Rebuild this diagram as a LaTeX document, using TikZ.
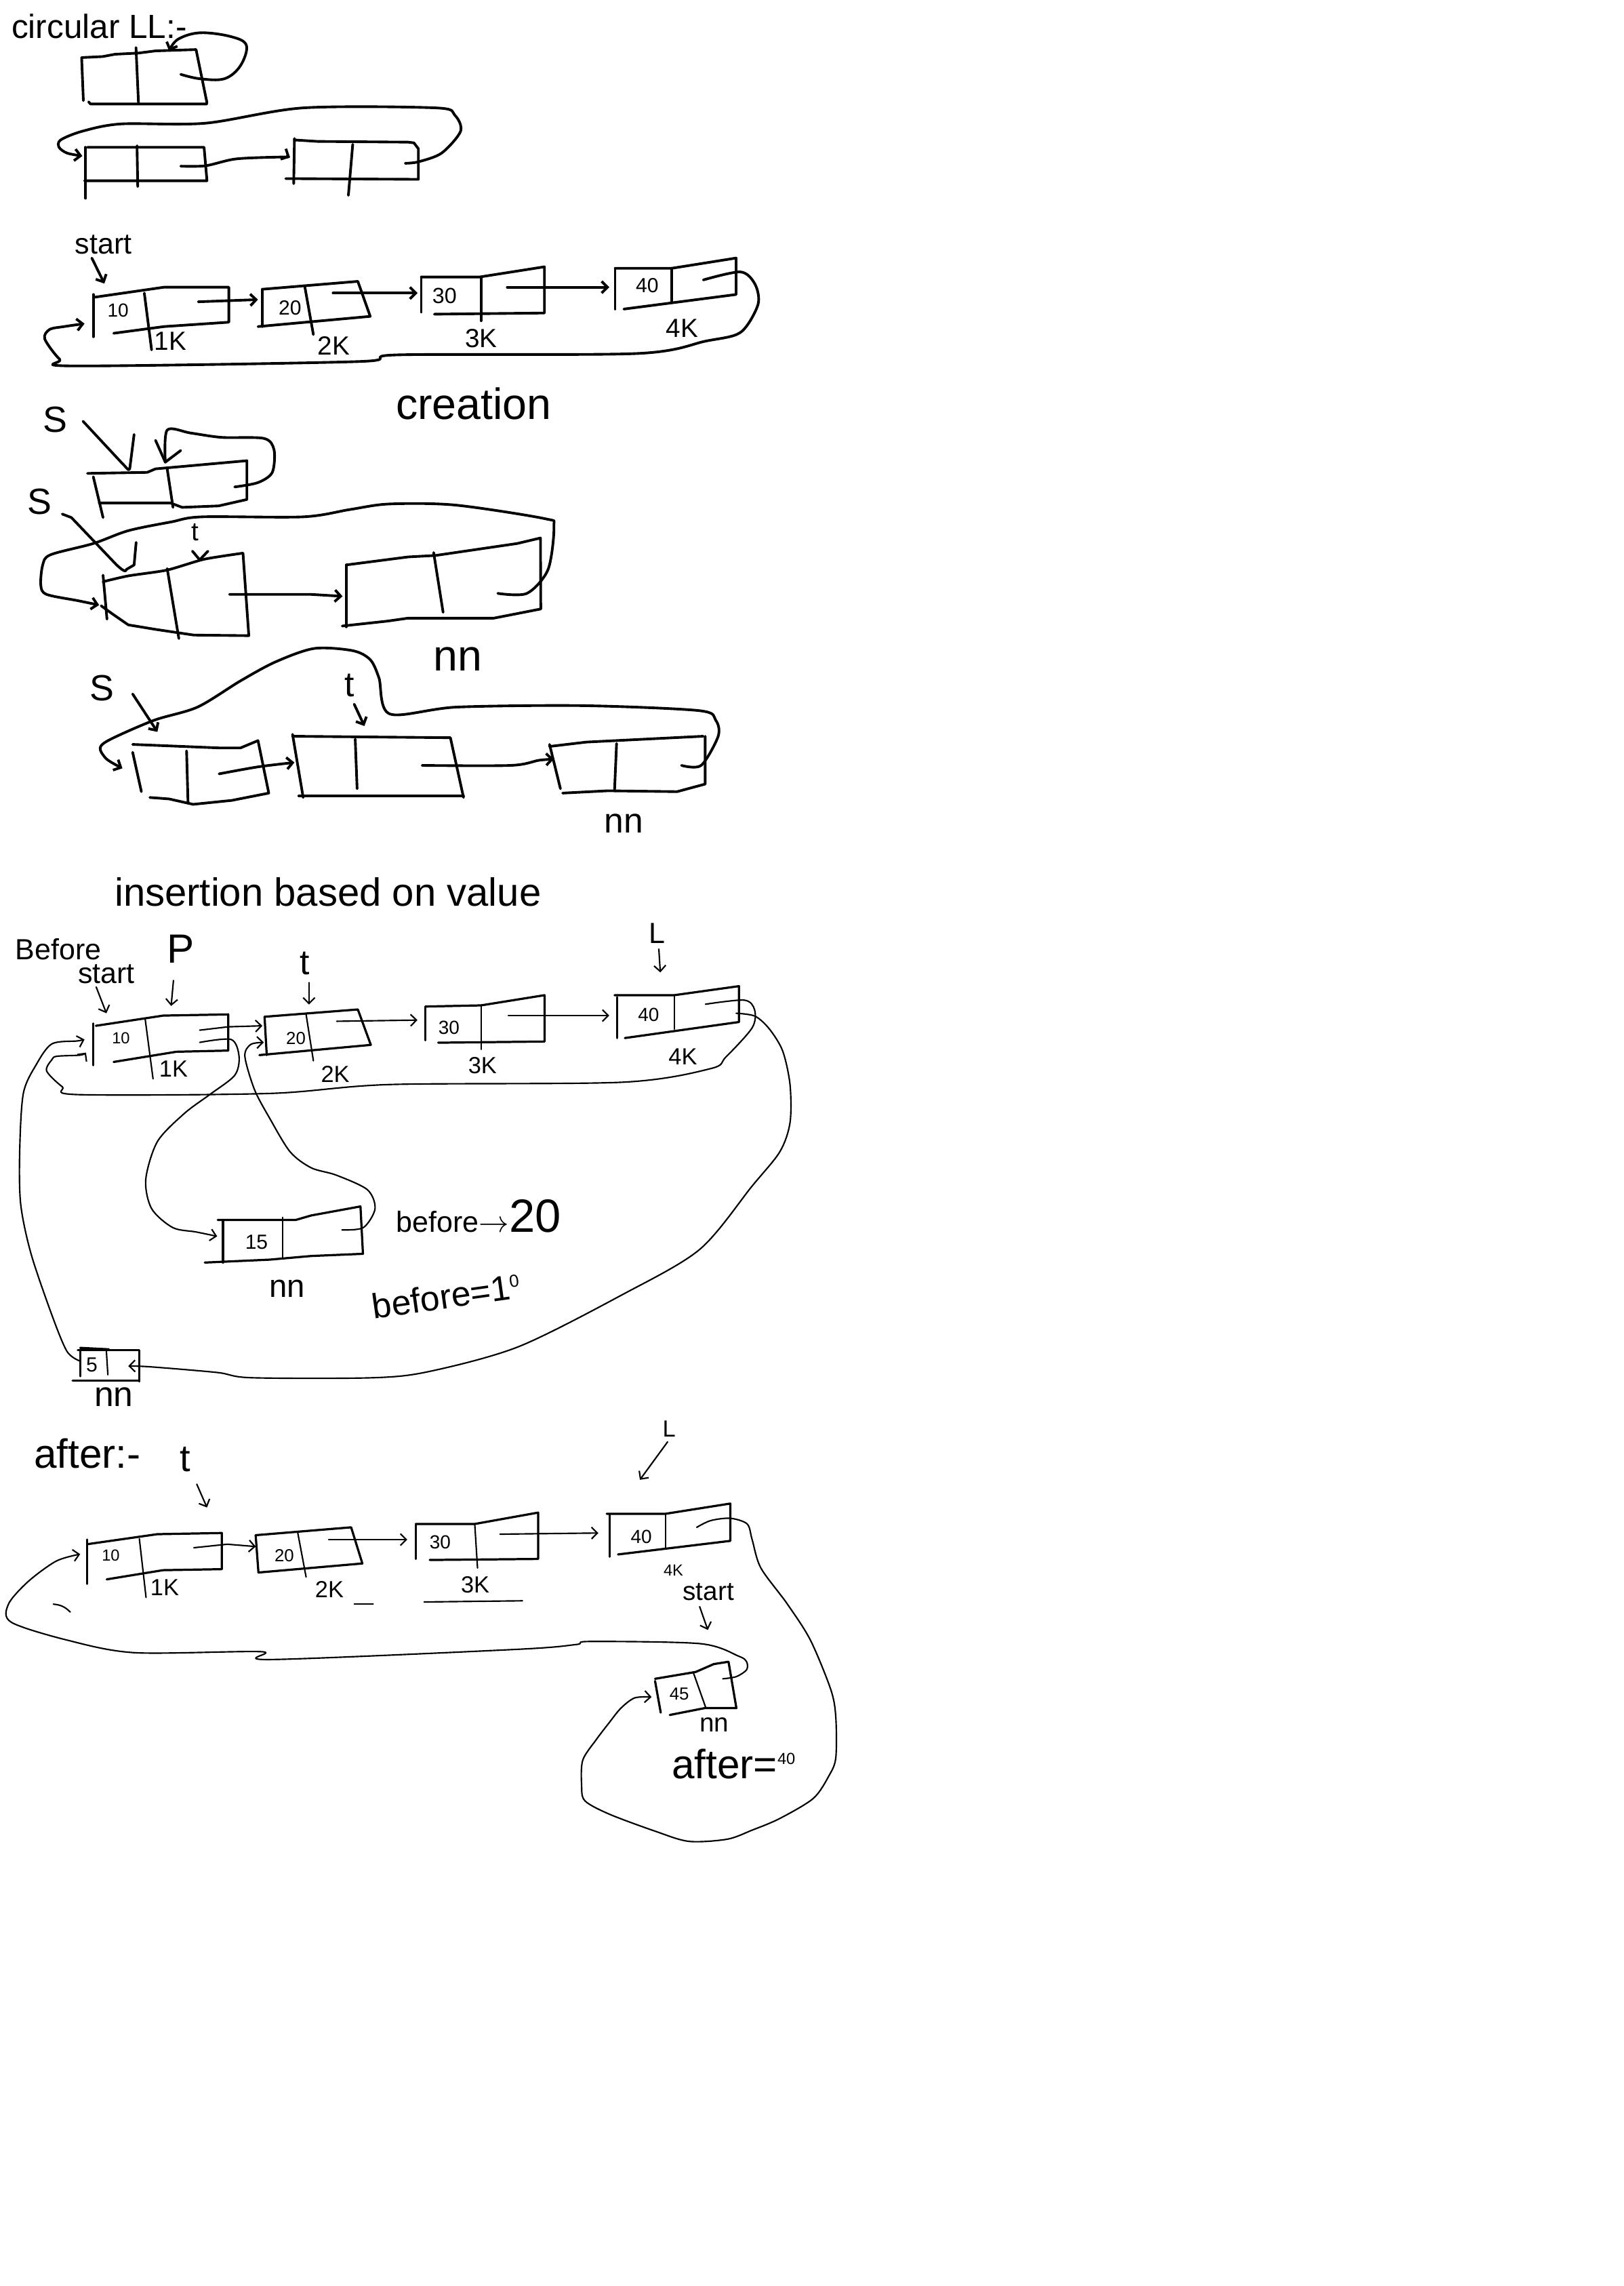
\documentclass[tikz,border=0pt]{standalone}
\usepackage{fontspec}
\setmainfont{Liberation Sans}
\usetikzlibrary{arrows.meta}
\newcommand{\hwfs}[1]{\fontsize{#1}{#1}\selectfont}
\begin{document}
\begin{tikzpicture}[x=1pt,y=-1pt,
  thk/.style={line width=1.8pt,line cap=round,line join=round},
  mid/.style={line width=1.5pt,line cap=round,line join=round},
  thn/.style={line width=1pt,line cap=round,line join=round},
  tip/.style={-{Straight Barb[length=4pt,width=8pt]}},
  lbl/.style={inner sep=0pt,outer sep=0pt}]
\useasboundingbox (0,0) rectangle (1114,1568);
\fill[white] (0,0) rectangle (1114,1568);

%% ---------- Section 1: circular LL ----------
\node[lbl,anchor=west] (title1) at (8,18) {\hwfs{23}circular LL:-};
% box A (self loop)
\draw[thk] (56,39.5) -- (70.4,38.8) -- (79,37.2) -- (95,36.4) -- (106.7,34.9) -- (134.5,34) -- (142,70.5);
\draw[thk] (60.8,69.8) -- (62,71.3) -- (142,71.3);
\draw[thk] (56,39.5) -- (57.2,69);
\draw[thk] (93.3,32.6) -- (95,70.5);
\draw[thk,tip] plot[smooth,tension=0.6] coordinates {(124,51) (137,54) (154,54) (165,45) (169,31) (158,25) (137,22.5) (122,27) (116,35)};
% box B
\draw[thk] (58.7,101) -- (58.7,136);
\draw[thk] (60,101) -- (140,101) -- (142,124) -- (58,124);
\draw[thk] (94,100) -- (94.5,128);
% box C
\draw[thk] (202,95) -- (201.5,126);
\draw[thk] (202,96) -- (218,97) -- (280,97.5) -- (284,98) -- (287,102) -- (287,123) -- (196,122.5);
\draw[thk] (242,99) -- (239,134);
\draw[thk,tip] plot[smooth] coordinates {(124,114) (141,113.7) (162,109) (193,107.7) (199,108)};
\draw[thk,tip] plot[smooth,tension=0.5] coordinates {(278,112) (287,111) (303,105) (316,90) (312,79) (299,74) (208,74) (141,84.5) (83,85) (56.5,90) (41.6,96) (40.5,101) (46,105) (56.5,107)};

%% ---------- Section 2: creation list ----------
\node[lbl] (start1) at (71,168) {\hwfs{20}start};
\draw[thk,tip] (63,177) -- (71.6,194.5);
% node 10
\draw[thk] (64,202) -- (64,231);
\draw[thk] (64,204) -- (112.5,197) -- (157,197) -- (157,221) -- (112.5,224) -- (78,228.6);
\draw[thk] (99,201) -- (104,240);
\node[lbl] (v10a) at (81,213) {\hwfs{13}10};
\node[lbl] (k1a) at (117,234) {\hwfs{18}1K};
% node 20
\draw[thk] (180,198.4) -- (180,224);
\draw[thk] (180,198.4) -- (245.5,193) -- (254,217) -- (177,224);
\draw[thk] (209,196) -- (215,229.5);
\node[lbl] (v20a) at (199,211) {\hwfs{14}20};
\node[lbl] (k2a) at (229,237) {\hwfs{18}2K};
% node 30
\draw[thk] (289,190) -- (289,214);
\draw[thk] (289,190) -- (329,190) -- (373.5,183) -- (373.5,214.7) -- (298,215.5);
\draw[thk] (330,190) -- (330,220);
\node[lbl] (v30a) at (305,203) {\hwfs{15}30};
\node[lbl] (k3a) at (330,232) {\hwfs{18}3K};
% node 40
\draw[thk] (422,184) -- (422,212);
\draw[thk] (422,184) -- (461,184) -- (505,177) -- (505,202) -- (428,212);
\draw[thk] (461,184) -- (461,207);
\node[lbl] (v40a) at (444,196) {\hwfs{14}40};
\node[lbl] (k4a) at (468,225) {\hwfs{18}4K};
\draw[thk,tip] (136,207) -- (177,205.5);
\draw[thk,tip] (228.5,201) -- (286.5,201);
\draw[thk,tip] (348,197) -- (418,197);
\draw[thk,tip] plot[smooth,tension=0.5] coordinates {(482.5,192) (508,186.5) (518,195) (520,209) (508,228) (484,234) (436.5,242.5) (273,243.4) (245.5,248) (51,251) (41,246.5) (30.7,232.5) (34,226) (44,224) (58,222)};
\node[lbl] (creat) at (325,277) {\hwfs{30}creation};

%% ---------- Section 3: S boxes ----------
\node[lbl] (S1) at (38,288) {\hwfs{25}S};
\draw[thk] (57,289) -- (84,318) to[out=-40,in=-100] (89,321.6) -- (92,298);
% top box
\draw[thk] (60,324.7) -- (101,324) -- (106.7,321.6) -- (169.4,316) -- (169.4,342.6) -- (150,347) -- (125,348) -- (117,345) -- (68,345);
\draw[thk] (64,327) -- (70.7,355);
\draw[thk] (114.7,321.6) -- (118.7,348);
\draw[thk] plot[smooth,tension=0.5] coordinates {(161,334) (177,331) (186.8,324) (188,308.5) (181,300.7) (152,300) (130.7,297) (114.7,295) (113.4,317)};
\draw[thk] (106.7,302) -- (113.4,317) -- (124,309);
\node[lbl] (S2) at (27,344) {\hwfs{25}S};
\draw[thk] (42.7,352.6) -- (49,355) -- (80,387.5) to[out=-40,in=-100] (86.7,390.6) -- (92,387.5) -- (93.4,372);
\node[lbl] (t1) at (134,365) {\hwfs{18}t};
\draw[thk] (132,378) -- (137,384) -- (142.7,378);
% big left box
\draw[thk] plot[smooth,tension=0.4] coordinates {(70.7,399) (88,395) (114.7,391) (140,383.6) (166.7,379.4)};
\draw[thk] (166.7,379.4) -- (170.7,436) -- (133,435.6) -- (106.7,431.7) -- (88,428.6) -- (77,421) -- (69.4,415.5);
\draw[thk] (70.7,394.5) -- (73.4,424.7);
\draw[thk] (114.7,390) -- (122.7,438);
\draw[thk,tip] (157.4,407.7) -- (213.4,407.7) -- (235,409);
% big right box
\draw[thk] (237.5,387.5) -- (237.5,430);
\draw[thk] (237.5,387.5) -- (280,382) -- (298.8,381) -- (354.8,372.8) -- (370.8,369) -- (371,417.7) -- (338.8,424) -- (280,424) -- (266,426) -- (234.8,429.4);
\draw[thk] (297.5,379) -- (304,420);
\draw[thk,tip] plot[smooth,tension=0.5] coordinates {(341.5,407) (361.5,407) (376,390.6) (380,361) (373.5,355.7) (312,346.4) (266.8,345.7) (240,349.5) (208,354.5) (138.7,354.5) (117.4,358) (88,364) (64,372.8) (34.7,380.5) (29.3,387.5) (28,401.5) (32,407.7) (53.4,412) (68,415)};
\node[lbl] (nn1) at (314,452) {\hwfs{30}nn};

%% ---------- Section 4: S, t ----------
\node[lbl] (S3) at (70,472) {\hwfs{25}S};
\draw[thk,tip] (91,476) -- (108,502);
\node[lbl] (t2) at (240,470) {\hwfs{24}t};
\draw[thk,tip] (243,483) -- (250,498);
% box 1
\draw[thk] (91,510.6) -- (150.3,513) -- (165,513) -- (177,508) -- (184.4,544) -- (159,549) -- (132.5,551.7) -- (116,548) -- (102.8,547);
\draw[thk] (91,516) -- (97,543);
\draw[thk] (128,515) -- (129,551);
\draw[thk,tip] plot[smooth] coordinates {(150.3,530.8) (177,526) (202,523)};
% box 2
\draw[thk] (200.7,503.7) -- (208,547);
\draw[thk] (200.7,505) -- (309,506) -- (318,547);
\draw[thk] (205,546) -- (318,546);
\draw[thk] (243.7,507) -- (245,541);
\draw[thk,tip] plot[smooth] coordinates {(289.6,525) (350.4,525) (369.7,521.5) (380,520.7)};
% box 3
\draw[thk] (377,512) -- (402.3,509) -- (482.4,505);
\draw[thk] (483.8,505) -- (483.8,537.8) -- (464.5,543) -- (417,542.4) -- (386,544);
\draw[thk] (377,510.6) -- (384.5,541);
\draw[thk] (423,510) -- (421.6,542.4);
\draw[thk,tip] plot[smooth,tension=0.5] coordinates {(467.5,525) (481,525) (492.7,505) (491,494) (479.4,487.4) (399.3,484) (313.4,485) (267.4,489.7) (260,465) (254,452.5) (242,446.3) (215.5,444.8) (189,454) (165,467) (135.5,485) (105.8,494) (76,507) (68.7,513) (73.2,520.7) (84,527)};
\node[lbl] (nn2) at (428,565) {\hwfs{24}nn};

%% ---------- Section 5: insertion before ----------
\node[lbl] (title2) at (225,612) {\hwfs{27}insertion based on value};
\node[lbl] (before) at (40,651) {\hwfs{20}Before};
\node[lbl] (start2) at (73,668) {\hwfs{20}start};
\draw[thn,tip] (66,677) -- (73,695);
\node[lbl] (P) at (124,651) {\hwfs{28}P};
\draw[thn,tip] (119,672.5) -- (117.4,690);
\node[lbl] (t3) at (209,661) {\hwfs{24}t};
\draw[thn,tip] (212,674) -- (212,689);
\node[lbl] (L1) at (451,640) {\hwfs{20}L};
\draw[thn,tip] (452,651) -- (453,667);
% node 10
\draw[mid] (64,702) -- (64,730.7);
\draw[mid] (65.8,703.6) -- (112,696.6) -- (156.6,695.8) -- (156.6,720.6) -- (121,721.4) -- (78,728.4);
\draw[thn] (99.6,699) -- (105,740);
\node[lbl] (v10b) at (83,712) {\hwfs{11}10};
\node[lbl] (k1b) at (119,733) {\hwfs{16}1K};
% node 20
\draw[mid] (181.5,697.4) -- (183,723.7);
\draw[mid] (181.5,697.4) -- (245.5,692.4) -- (254.4,716.7) -- (178,723.7);
\draw[thn] (210,695.8) -- (215,727.6);
\node[lbl] (v20b) at (203,712) {\hwfs{12}20};
\node[lbl] (k2b) at (230,737) {\hwfs{16}2K};
% node 30
\draw[mid] (291.8,690.4) -- (291.8,713.6);
\draw[mid] (291.8,690.4) -- (330,689.6) -- (373.6,682.6) -- (373.6,714.4) -- (300.6,715.2);
\draw[thn] (330,689.6) -- (330,719.8);
\node[lbl] (v30b) at (308,705) {\hwfs{13}30};
\node[lbl] (k3b) at (331,731) {\hwfs{16}3K};
% node 40
\draw[mid] (423.4,684) -- (423.4,712);
\draw[mid] (421.6,682.6) -- (462.6,682.6) -- (507,676.4) -- (507,701) -- (428.7,712);
\draw[thn] (462.6,683.4) -- (462.6,705.9);
\node[lbl] (v40b) at (445,696) {\hwfs{13}40};
\node[lbl] (k4b) at (468.5,725) {\hwfs{16}4K};
\draw[thn,tip] (137,706.6) -- (156.6,704.3) -- (180,703.6);
\draw[thn,tip] (231,700.5) -- (286.4,699.7);
\draw[thn,tip] (348.7,696.6) -- (418,696.6);
\draw[thn,tip] plot[smooth,tension=0.5] coordinates {(484,688.8) (510.6,686) (517.7,692.7) (516,705) (498,725) (487.4,733) (427,742.3) (267,743.9) (185,750) (53.4,750.8) (42.7,745.4) (32,734.6) (35.6,726.8) (39,724.5) (55.2,723.7) (59,722)};
% node 15
\draw[mid] (153,836.8) -- (153,866);
\draw[mid] (149.4,836.8) -- (202.8,836.8) -- (213.5,833.7) -- (247.3,827.5) -- (249,860) -- (213.5,861.5) -- (185,864) -- (140.5,866);
\draw[thn] (194,835) -- (194,863);
\node[lbl] (v15) at (176,852) {\hwfs{14}15};
\node[lbl] (nn3) at (197,884) {\hwfs{22}nn};
\draw[thn,tip] plot[smooth,tension=0.5] coordinates {(137,715) (158.6,713) (164,724.6) (161,737.6) (144,750.7) (126.5,763.7) (108,783) (100,809) (104,829) (118.5,842) (134.5,845) (149,848)};
\draw[thn,tip] plot[smooth,tension=0.5] coordinates {(234.6,843.6) (249.3,842) (257.3,829) (252,816) (230.6,806) (213.5,801) (199,790) (185,767) (174.6,747.4) (168,724.6) (172,716.4) (181,715)};
\node[lbl,anchor=west] (bef20) at (272,834) {\hwfs{20}before$\rightarrow$\hwfs{32}20};
\node[lbl,rotate=8] (bef10) at (306,889) {\hwfs{24}before=1\raisebox{8pt}{\hwfs{12}0}};
% node 5
\draw[mid] (53.4,926) -- (95.4,926) -- (95.4,947.6);
\draw[mid] (55,924.5) -- (74.7,925.5);
\draw[mid] (55,926) -- (55,944);
\draw[mid] (49.8,946.8) -- (95.4,946.8);
\draw[thn] (73,927) -- (74,943);
\node[lbl] (v5) at (63,936) {\hwfs{14}5};
\node[lbl] (nn4) at (78,958) {\hwfs{24}nn};
\draw[thn,tip] plot[smooth,tension=0.5] coordinates {(55,933.6) (46,927) (35.6,902) (21.3,860) (14.2,826) (13.5,790) (16,750) (25,730) (35.6,716) (53,714) (58,713)};
\draw[thn,tip] plot[smooth,tension=0.5] coordinates {(505,695) (518,697) (528,706) (537,721) (542,744) (542,770) (535,790) (516,813.5) (480,857) (427,888) (356,923.6) (295,940.6) (256,945) (172.6,945) (149,941.4) (103,937.5) (88,937)};

%% ---------- Section 6: after ----------
\node[lbl] (after) at (60,997) {\hwfs{28}after:-};
\node[lbl] (t4) at (127,1001) {\hwfs{26}t};
\draw[thn,tip] (135,1018) -- (142,1034);
\node[lbl] (L2) at (459,980) {\hwfs{16}L};
\draw[thn,tip] (458,989) -- (439,1015);
% node 10
\draw[mid] (59.7,1056) -- (59.7,1086.4);
\draw[mid] (59.7,1059.2) -- (108,1052.3) -- (152.2,1051.5) -- (152.2,1076.3) -- (111.8,1077) -- (73.2,1083.3);
\draw[thn] (95.6,1055.4) -- (100.2,1095.7);
\node[lbl] (v10c) at (76,1067) {\hwfs{11}10};
\node[lbl] (k1c) at (113,1089) {\hwfs{16}1K};
% node 20
\draw[mid] (175.4,1053) -- (177.3,1078.6);
\draw[mid] (175.4,1053) -- (231.2,1048.4) -- (240.9,1047.6) -- (248.6,1072.4) -- (177.3,1078.6);
\draw[thn] (204.3,1051.5) -- (210,1081.7);
\node[lbl] (v20c) at (195,1067) {\hwfs{12}20};
\node[lbl] (k2c) at (226,1090) {\hwfs{16}2K};
\draw[thn] (243,1100) -- (256,1100);
% node 30
\draw[mid] (285.2,1046) -- (285.2,1069.3);
\draw[mid] (285.2,1045.3) -- (325.7,1045.3) -- (369.2,1037.5) -- (369.2,1069.3) -- (294.8,1070);
\draw[thn] (325.7,1045.3) -- (327.6,1075.5);
\node[lbl] (v30c) at (302,1058) {\hwfs{13}30};
\node[lbl] (k3c) at (326,1087) {\hwfs{16}3K};
\draw[thn] (291,1098.8) -- (358.4,1098);
% node 40
\draw[mid] (418.2,1039.1) -- (418.2,1067.8);
\draw[mid] (416.2,1038.3) -- (456.7,1038.3) -- (501,1031.3) -- (501,1056.9) -- (424,1066.2);
\draw[thn] (456.7,1038.3) -- (456.7,1061.5);
\node[lbl] (v40c) at (440,1054) {\hwfs{13}40};
\node[lbl] (k4c) at (462,1077) {\hwfs{11}4K};
\draw[thn,tip] (133,1061.6) -- (156,1059.2) -- (175.5,1060.8);
\draw[thn,tip] (225.5,1056) -- (279.4,1056);
\draw[thn,tip] (343,1052.3) -- (410.5,1051.5);
\node[lbl] (start3) at (486,1092) {\hwfs{18}start};
\draw[thn,tip] (480,1102) -- (485.6,1118);
% node 45
\draw[mid] (449.4,1153) -- (453.3,1174.7);
\draw[mid] (449.4,1151.5) -- (477.3,1146.8) -- (489.7,1141.4) -- (499.8,1139.8) -- (505.2,1171.6) -- (483.5,1171.6) -- (459.5,1176.3);
\draw[thn] (475.8,1147.6) -- (484.3,1171.6);
\node[lbl] (v45) at (466,1162) {\hwfs{12}45};
\node[lbl] (nn5) at (490,1183) {\hwfs{18}nn};
\node[lbl,anchor=west] (aft40) at (461,1210) {\hwfs{28}after=\raisebox{10pt}{\hwfs{11}40}};
\draw[thn,tip] plot[smooth,tension=0.5] coordinates {(495.9,1151.5) (505.2,1150) (512.2,1145.3) (512.2,1139.8) (506.8,1136) (480.4,1127.4) (404.7,1125.9) (395.2,1128) (354.6,1131.3) (185,1138.3) (179.2,1132.9) (92.5,1133.6) (46.2,1125) (7.7,1112.7) (5.8,1100.3) (19.3,1084.8) (38.5,1070.8) (55,1066)};
\draw[thn,tip] plot[smooth,tension=0.5] coordinates {(478,1047.6) (487.5,1043) (501,1041.4) (512.6,1045.3) (516,1056) (522,1075.5) (540,1100) (556,1125) (570,1159) (573.4,1177.8) (573.4,1205.7) (568.7,1218) (557.9,1233.6) (534.6,1247.5) (516,1255.3) (499,1261.5) (472.6,1263) (449.4,1256) (418.4,1244.5) (401.3,1235.2) (399,1224.3) (399.8,1207.3) (409,1193.3) (418.4,1181) (426,1171.6) (435.4,1164.6) (447,1164)};
\draw[thn] (36.6,1100.3) to[bend left=20] (48.2,1105.7);
\end{tikzpicture}
\end{document}
